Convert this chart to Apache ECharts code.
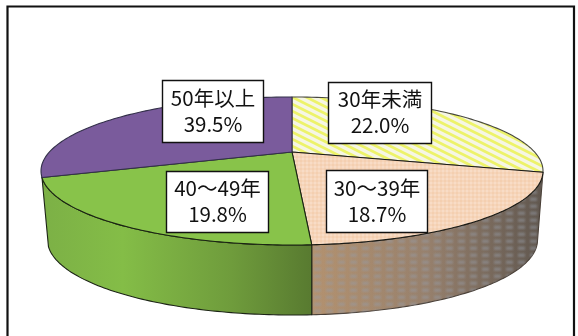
<!DOCTYPE html>
<html><head><meta charset="utf-8">
<style>html,body{margin:0;padding:0;background:#fff}#c{width:578px;height:336px}</style>
<script src="https://cdn.jsdelivr.net/npm/echarts@6/dist/echarts.min.js"></script></head>
<body><div id="c"></div>
<script>
var categories = ['30年未満', '30～39年', '40～49年', '50年以上'];
var shares = [22.0, 18.7, 19.8, 39.5];

var labelBoxes = [[328,82,103,61],[326,170,101,62],[166,171,102,61],[162,80,101,62]];
var topRim = {cx:292, cy:171, a:251, b:74};
var baseRim = {cx:292.5, cy:240, a:245, b:75};
var apex = [292,152];
var warp = {a:-7.3, b:5.6, c:20.8};

function tile(w,h,draw){var c=document.createElement('canvas');c.width=w;c.height=h;draw(c.getContext('2d'));return {image:c,repeat:'repeat'};}
var yellowHatch = tile(14,7,function(g){g.fillStyle='#f6f6e4';g.fillRect(0,0,14,7);g.strokeStyle='#edf36a';g.lineWidth=2.8;
  [[-14,-7,28,14],[-14,-14,28,7],[-14,0,28,21]].forEach(function(s){g.beginPath();g.moveTo(s[0],s[1]);g.lineTo(s[2],s[3]);g.stroke();});});
var pinkDots = tile(4,4,function(g){g.fillStyle='#f6d5ba';g.fillRect(0,0,4,4);g.fillStyle='#f4cfb0';g.fillRect(0,0,2,2);g.fillStyle='#f8dcc6';g.fillRect(2,2,2,2);});
var brownDots = tile(12,7,function(g){g.clearRect(0,0,12,7);g.filter='blur(1px)';g.fillStyle='rgba(150,155,165,0.5)';g.fillRect(2,1.5,7,3.5);g.filter='none';});
var fills = [yellowHatch, pinkDots, '#88c34a', '#7a5b9c'];
var topStrokes = ['#4a4a40','#1a1a14','#1a2412','#33304a'];

var sideGreen = {type:'linear',x:0,y:0,x2:1,y2:0,colorStops:[{offset:0,color:'#7cb046'},{offset:.3,color:'#84bd47'},{offset:.7,color:'#6f9c3c'},{offset:1,color:'#587a30'}]};
var sideBrown = {type:'linear',x:0,y:0,x2:1,y2:0,colorStops:[{offset:0,color:'#b4926f'},{offset:.5,color:'#97806c'},{offset:1,color:'#5f564e'}]};

function cumul(i){var s=0;for(var k=0;k<i;k++)s+=shares[k];return s/100*2*Math.PI;}
function warped(t){var d=warp.a*Math.sin(t)+warp.b*Math.sin(2*t)+warp.c*(1-Math.cos(t));return t+d*Math.PI/180;}
function rimPoint(r,p){return [r.cx+r.a*Math.sin(p),r.cy-r.b*Math.cos(p)];}
function arc(r,p0,p1){var n=80,o=[];for(var k=0;k<=n;k++)o.push(rimPoint(r,p0+(p1-p0)*k/n));return o;}

function renderTop(params,api){
  var i=params.dataIndex,p0=warped(cumul(i)),p1=warped(cumul(i+1));
  return {type:'polygon',shape:{points:[apex].concat(arc(topRim,p0,p1))},
    style:{fill:fills[i],stroke:topStrokes[i],lineWidth:1.1,lineJoin:'round'}};
}
function renderSide(params,api){
  var i=params.dataIndex; if(i!==1&&i!==2) return null;
  var p0=warped(cumul(i)),p1=warped(cumul(i+1));
  var pts=arc(topRim,p0,p1).concat(arc(baseRim,p1,p0));
  var kids=[{type:'polygon',shape:{points:pts},style:{fill:i===1?sideBrown:sideGreen,stroke:i===1?'#4a4038':'#1c2416',lineWidth:1.1,lineJoin:'round'}}];
  if(i===1) kids.push({type:'polygon',shape:{points:pts},style:{fill:brownDots}});
  return {type:'group',children:kids};
}
function renderLabel(params,api){
  var i=params.dataIndex,b=labelBoxes[i];
  return {type:'group',children:[
    {type:'rect',shape:{x:b[0]+.5,y:b[1]+.5,width:b[2],height:b[3]},style:{fill:'#fff',stroke:'#111',lineWidth:1.4}},
    {type:'text',style:{x:b[0]+b[2]/2+.5,y:b[1]+b[3]/2,text:categories[i]+'\n'+shares[i].toFixed(1)+'%',
      align:'center',verticalAlign:'middle',font:'400 20.5px "Noto Sans CJK JP"',lineHeight:26,fill:'#111'}}
  ]};
}
var seriesData = categories.map(function(n,i){return {name:n,value:shares[i]};});
var chart = echarts.init(document.getElementById('c'),null,{renderer:'canvas'});
chart.setOption({
  animation:false,
  backgroundColor:'#fff',
  graphic:[
    {type:'polyline',z:0,silent:true,shape:{points:[[7.5,336],[7.5,6.5],[574,6.5],[574,336]]},style:{stroke:'#111',lineWidth:2.2,fill:null}}
  ],
  series:[
    {type:'custom',coordinateSystem:'none',z:2,silent:true,data:seriesData,renderItem:renderSide},
    {type:'custom',coordinateSystem:'none',z:3,silent:true,data:seriesData,renderItem:renderTop},
    {type:'custom',coordinateSystem:'none',z:4,silent:true,data:seriesData,renderItem:renderLabel}
  ]
});
</script></body></html>
